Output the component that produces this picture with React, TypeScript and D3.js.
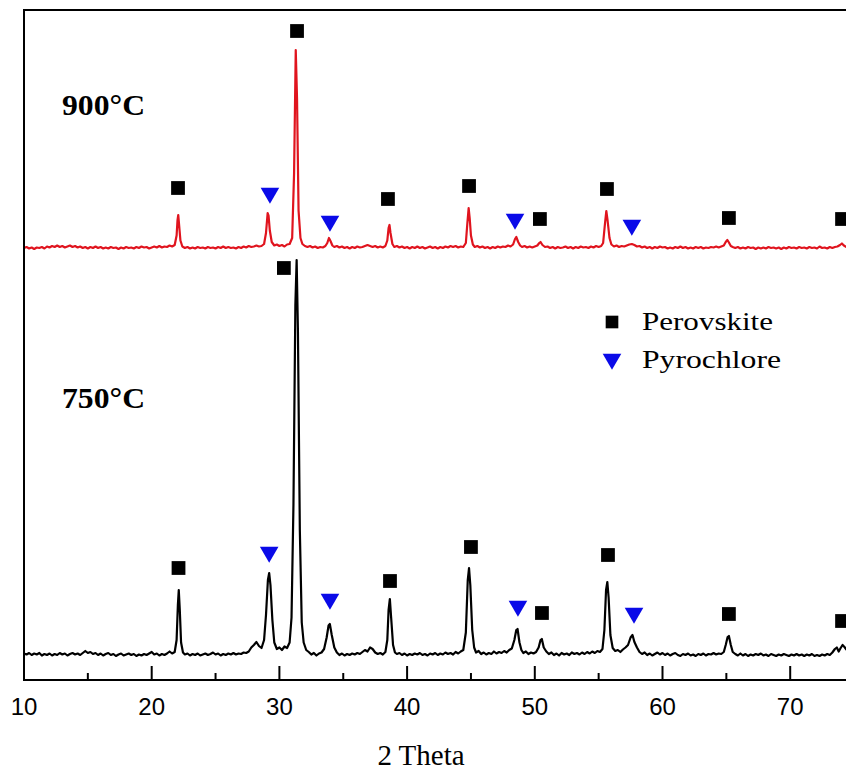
import React from "react";
import * as d3 from "d3";

// ---------- data (2θ in degrees, intensity in arbitrary counts) ----------
const X_TICKS_MAJOR = [10, 20, 30, 40, 50, 60, 70];
const X_TICKS_MINOR = [15, 25, 35, 45, 55, 65, 75];
const X_LABEL = "2 Theta";
const SAMPLE_LABELS = ["900°C", "750°C"];
const LEGEND_ITEMS = ["Perovskite", "Pyrochlore"];

// vertical offset of the 900°C pattern
const OFFSET_900 = 1628;

const PATTERN_750: [number, number][] = [
[10.0,6],[10.2,2],[10.4,8],[10.6,0],[10.8,6],[11.0,2],[11.2,8],[11.4,-2],[11.6,4],[11.8,0],[12.0,6],[12.2,-2],[12.4,4],[12.6,0],[12.8,8],[13.0,2],[13.2,6],[13.4,-2],[13.6,4],[13.8,8],[14.0,2],[14.2,6],[14.4,0],[14.6,8],[14.8,16],[15.0,8],[15.2,12],[15.4,4],[15.6,8],[15.8,0],[16.0,6],[16.2,-2],[16.4,4],[16.6,8],[16.8,0],[17.0,4],[17.2,-4],[17.4,2],[17.6,6],[17.8,-2],[18.0,2],[18.2,6],[18.4,0],[18.6,4],[18.8,-4],[19.0,2],[19.2,-2],[19.4,4],[19.6,0],[19.8,6],[20.0,12],[20.2,2],[20.4,6],[20.6,-2],[20.8,4],[21.0,0],[21.2,6],[21.4,14],[21.6,6],[21.8,12],[21.95,60],[22.05,200],[22.12,260],[22.2,180],[22.3,50],[22.45,10],[22.6,2],[22.8,6],[23.0,-2],[23.2,4],[23.4,0],[23.6,6],[23.8,-2],[24.0,2],[24.2,6],[24.4,0],[24.6,4],[24.8,10],[25.0,2],[25.2,6],[25.4,-2],[25.6,4],[25.8,0],[26.0,6],[26.2,2],[26.4,8],[26.6,2],[26.8,6],[27.0,4],[27.2,10],[27.4,8],[27.6,14],[27.8,30],[28.0,40],[28.2,52],[28.4,36],[28.6,28],[28.8,60],[28.95,160],[29.1,300],[29.2,328],[29.3,280],[29.45,140],[29.6,50],[29.8,24],[30.0,30],[30.2,20],[30.4,34],[30.6,28],[30.8,50],[30.95,150],[31.1,600],[31.25,1400],[31.35,1580],[31.45,1300],[31.6,500],[31.75,130],[31.9,50],[32.1,20],[32.3,12],[32.5,2],[32.7,8],[32.9,-2],[33.1,6],[33.3,10],[33.5,24],[33.7,70],[33.85,118],[33.95,124],[34.1,80],[34.3,30],[34.5,10],[34.7,0],[34.9,6],[35.1,-2],[35.3,4],[35.5,0],[35.7,6],[35.9,2],[36.1,8],[36.3,4],[36.5,12],[36.7,20],[36.9,14],[37.1,30],[37.3,24],[37.5,10],[37.7,4],[37.9,8],[38.1,2],[38.3,12],[38.45,60],[38.55,180],[38.65,224],[38.75,150],[38.9,40],[39.05,10],[39.2,4],[39.4,8],[39.6,0],[39.8,6],[40.0,-2],[40.2,4],[40.4,0],[40.6,6],[40.8,2],[41.0,8],[41.2,0],[41.4,4],[41.6,-2],[41.8,6],[42.0,2],[42.2,8],[42.4,0],[42.6,6],[42.8,2],[43.0,10],[43.2,4],[43.4,8],[43.6,2],[43.8,12],[44.0,6],[44.2,14],[44.4,20],[44.6,90],[44.75,300],[44.85,348],[44.95,280],[45.1,100],[45.25,30],[45.4,10],[45.6,16],[45.8,4],[46.0,10],[46.2,2],[46.4,8],[46.6,4],[46.8,14],[47.0,6],[47.2,12],[47.4,8],[47.6,16],[47.8,10],[48.0,20],[48.2,26],[48.4,60],[48.55,100],[48.65,104],[48.8,50],[48.95,20],[49.1,8],[49.3,14],[49.5,4],[49.7,10],[49.9,6],[50.1,12],[50.3,30],[50.45,60],[50.55,64],[50.7,30],[50.9,14],[51.1,4],[51.3,10],[51.5,0],[51.7,6],[51.9,-2],[52.1,8],[52.3,2],[52.5,6],[52.7,0],[52.9,10],[53.1,4],[53.3,8],[53.5,2],[53.7,10],[53.9,4],[54.1,12],[54.3,6],[54.5,14],[54.7,8],[54.9,16],[55.1,12],[55.3,24],[55.45,100],[55.58,260],[55.68,292],[55.78,230],[55.92,80],[56.1,28],[56.3,16],[56.5,20],[56.7,12],[56.9,22],[57.1,30],[57.3,40],[57.5,70],[57.65,80],[57.8,52],[58.0,30],[58.2,12],[58.4,4],[58.6,10],[58.8,0],[59.0,6],[59.2,-2],[59.4,4],[59.6,10],[59.8,2],[60.0,8],[60.2,0],[60.4,6],[60.6,-2],[60.8,4],[61.0,8],[61.2,0],[61.4,-4],[61.6,4],[61.8,0],[62.0,6],[62.2,-2],[62.4,2],[62.6,-4],[62.8,4],[63.0,0],[63.2,6],[63.4,-2],[63.6,4],[63.8,2],[64.0,8],[64.2,2],[64.4,6],[64.6,4],[64.8,12],[64.95,40],[65.1,72],[65.2,76],[65.35,40],[65.5,12],[65.7,4],[65.9,-2],[66.1,6],[66.3,-2],[66.5,4],[66.7,-4],[66.9,2],[67.1,-2],[67.3,4],[67.5,0],[67.7,6],[67.9,-2],[68.1,2],[68.3,-4],[68.5,4],[68.7,0],[68.9,-4],[69.1,2],[69.3,-2],[69.5,4],[69.7,0],[69.9,-4],[70.1,2],[70.3,-2],[70.5,4],[70.7,-2],[70.9,2],[71.1,-4],[71.3,2],[71.5,-2],[71.7,4],[71.9,-4],[72.1,0],[72.3,-4],[72.5,2],[72.7,-2],[72.9,4],[73.1,0],[73.3,10],[73.5,24],[73.65,30],[73.8,14],[73.95,28],[74.1,40],[74.25,32],[74.4,22],[74.6,12],[75.0,6]
];

const PATTERN_900: [number, number][] = [
[10.0,0],[10.2,4],[10.4,-2],[10.6,2],[10.8,-4],[11.0,2],[11.2,0],[11.4,4],[11.6,-2],[11.8,6],[12.0,2],[12.2,8],[12.4,4],[12.6,10],[12.8,4],[13.0,8],[13.2,2],[13.4,6],[13.6,10],[13.8,4],[14.0,8],[14.2,2],[14.4,6],[14.6,0],[14.8,4],[15.0,-2],[15.2,4],[15.4,0],[15.6,6],[15.8,0],[16.0,4],[16.2,-2],[16.4,2],[16.6,-2],[16.8,4],[17.0,0],[17.2,2],[17.4,-4],[17.6,2],[17.8,-2],[18.0,4],[18.2,0],[18.4,2],[18.6,-2],[18.8,4],[19.0,0],[19.2,6],[19.4,2],[19.6,4],[19.8,-2],[20.0,2],[20.2,6],[20.4,2],[20.6,8],[20.8,2],[21.0,6],[21.2,4],[21.4,10],[21.6,6],[21.8,12],[21.95,50],[22.02,110],[22.08,132],[22.15,90],[22.25,30],[22.4,6],[22.6,0],[22.8,4],[23.0,-2],[23.2,2],[23.4,-2],[23.6,4],[23.8,0],[24.0,2],[24.2,-2],[24.4,4],[24.6,0],[24.8,2],[25.0,-2],[25.2,4],[25.4,0],[25.6,6],[25.8,0],[26.0,4],[26.2,0],[26.4,2],[26.6,-2],[26.8,4],[27.0,0],[27.2,6],[27.4,2],[27.6,8],[27.8,4],[28.0,6],[28.2,10],[28.4,6],[28.6,8],[28.8,16],[28.95,60],[29.08,140],[29.15,130],[29.25,70],[29.4,24],[29.6,10],[29.8,14],[30.0,8],[30.2,12],[30.4,6],[30.6,14],[30.8,16],[31.0,40],[31.15,300],[31.28,792],[31.38,600],[31.5,150],[31.65,40],[31.8,16],[32.0,8],[32.2,4],[32.4,8],[32.6,2],[32.8,6],[33.0,0],[33.2,4],[33.4,2],[33.6,8],[33.75,20],[33.88,40],[34.0,28],[34.15,10],[34.3,4],[34.5,8],[34.7,2],[34.9,6],[35.1,0],[35.3,4],[35.5,-2],[35.7,4],[35.9,0],[36.1,6],[36.3,2],[36.5,4],[36.7,8],[36.9,12],[37.1,8],[37.3,4],[37.5,8],[37.7,2],[37.9,6],[38.1,2],[38.3,8],[38.45,30],[38.55,80],[38.62,92],[38.7,60],[38.85,16],[39.0,4],[39.2,8],[39.4,2],[39.6,6],[39.8,0],[40.0,4],[40.2,-2],[40.4,4],[40.6,0],[40.8,6],[41.0,0],[41.2,4],[41.4,-2],[41.6,2],[41.8,6],[42.0,0],[42.2,4],[42.4,-2],[42.6,4],[42.8,0],[43.0,6],[43.2,2],[43.4,8],[43.6,4],[43.8,8],[44.0,2],[44.2,6],[44.4,4],[44.6,20],[44.72,100],[44.82,160],[44.9,120],[45.0,50],[45.15,14],[45.3,4],[45.5,8],[45.7,2],[45.9,6],[46.1,0],[46.3,4],[46.5,-2],[46.7,4],[46.9,0],[47.1,6],[47.3,2],[47.5,6],[47.7,4],[47.9,10],[48.1,6],[48.3,14],[48.45,36],[48.55,44],[48.7,24],[48.85,10],[49.0,4],[49.2,8],[49.4,2],[49.6,6],[49.8,2],[50.0,6],[50.2,10],[50.35,20],[50.45,24],[50.6,12],[50.8,4],[51.0,6],[51.2,0],[51.4,4],[51.6,-2],[51.8,4],[52.0,0],[52.2,2],[52.4,6],[52.6,0],[52.8,4],[53.0,-2],[53.2,4],[53.4,0],[53.6,6],[53.8,2],[54.0,4],[54.2,0],[54.4,6],[54.6,2],[54.8,8],[55.0,4],[55.2,8],[55.35,20],[55.5,100],[55.6,148],[55.7,110],[55.85,40],[56.0,14],[56.2,6],[56.4,10],[56.6,4],[56.8,8],[57.0,6],[57.2,10],[57.4,14],[57.6,16],[57.8,12],[58.0,6],[58.2,8],[58.4,2],[58.6,6],[58.8,0],[59.0,4],[59.2,-2],[59.4,4],[59.6,0],[59.8,6],[60.0,2],[60.2,4],[60.4,-2],[60.6,2],[60.8,-2],[61.0,4],[61.2,0],[61.4,6],[61.6,0],[61.8,4],[62.0,-2],[62.2,2],[62.4,-2],[62.6,4],[62.8,0],[63.0,4],[63.2,-2],[63.4,2],[63.6,0],[63.8,4],[64.0,2],[64.2,6],[64.4,2],[64.6,6],[64.8,10],[64.95,24],[65.08,32],[65.2,22],[65.35,8],[65.5,4],[65.7,0],[65.9,4],[66.1,-2],[66.3,2],[66.5,-2],[66.7,4],[66.9,0],[67.1,2],[67.3,-4],[67.5,2],[67.7,-2],[67.9,2],[68.1,-2],[68.3,4],[68.5,0],[68.7,2],[68.9,-2],[69.1,2],[69.3,-4],[69.5,2],[69.7,-2],[69.9,4],[70.1,0],[70.3,2],[70.5,-2],[70.7,4],[70.9,0],[71.1,2],[71.3,-2],[71.5,4],[71.7,0],[71.9,2],[72.1,-2],[72.3,6],[72.5,0],[72.7,2],[72.9,-2],[73.1,4],[73.3,0],[73.5,4],[73.7,6],[73.9,12],[74.05,18],[74.2,10],[74.4,4],[74.7,2],[75.0,0]
];

// phase markers: [2θ, intensity position of the marker]
const PEROVSKITE_750: [number, number][] = [
  [22.1, 348], [30.35, 1548], [38.66, 296], [45.0, 432], [50.56, 168], [55.73, 400], [65.2, 164], [74.06, 136],
];
const PYROCHLORE_750: [number, number][] = [
  [29.2, 412], [33.96, 224], [48.68, 196], [57.77, 168],
];
const PEROVSKITE_900: [number, number][] = [
  [22.06, 1868], [31.38, 2496], [38.5, 1824], [44.85, 1876], [50.4, 1744], [55.65, 1864], [65.2, 1748], [74.06, 1744],
];
const PYROCHLORE_900: [number, number][] = [
  [29.26, 1848], [33.96, 1736], [48.45, 1744], [57.6, 1720],
];

const X_DOMAIN = [10, 80];
const Y_DOMAIN = [-100, 2580];

// ---------- layout ----------
const W = 846;
const H = 772;
const LEFT = 24;
const TOP = 10;
const BOTTOM = 680;
const PX_PER_DEG = 12.77;

const RED = "#e0141e";
const BLUE = "#0a0ae8";

export default function App() {
  const x = d3
    .scaleLinear()
    .domain(X_DOMAIN)
    .range([LEFT, LEFT + (X_DOMAIN[1] - X_DOMAIN[0]) * PX_PER_DEG]);
  const y = d3.scaleLinear().domain(Y_DOMAIN).range([BOTTOM, TOP]);

  const line750 = d3
    .line<[number, number]>()
    .x((d) => x(d[0]))
    .y((d) => y(d[1]));
  const line900 = d3
    .line<[number, number]>()
    .x((d) => x(d[0]))
    .y((d) => y(d[1] + OFFSET_900));

  const square = d3.symbol().type(d3.symbolSquare).size(190)()!;
  const tri = d3.symbol().type(d3.symbolTriangle).size(150)()!;
  const squareLeg = d3.symbol().type(d3.symbolSquare).size(160)()!;
  const triLeg = d3.symbol().type(d3.symbolTriangle).size(150)()!;

  const xRight = x(X_DOMAIN[1]);

  return (
    <svg
      width={W}
      height={H}
      style={{ position: "absolute", left: 0, top: 0, background: "#fff" }}
    >
      <defs>
        <clipPath id="plot">
          <rect x={LEFT} y={TOP} width={xRight - LEFT} height={BOTTOM - TOP} />
        </clipPath>
      </defs>
      <rect x={0} y={0} width={W} height={H} fill="#fff" />

      <g clipPath="url(#plot)">
        <path d={line900(PATTERN_900)!} fill="none" stroke={RED} strokeWidth={2.2} strokeLinejoin="round" />
        <path d={line750(PATTERN_750)!} fill="none" stroke="#000" strokeWidth={2.2} strokeLinejoin="round" />

        {[...PEROVSKITE_750, ...PEROVSKITE_900].map((d, i) => (
          <path key={"s" + i} d={square} transform={`translate(${x(d[0])},${y(d[1])})`} fill="#000" />
        ))}
        {[...PYROCHLORE_750, ...PYROCHLORE_900].map((d, i) => (
          <path key={"t" + i} d={tri} transform={`translate(${x(d[0])},${y(d[1])}) rotate(180)`} fill={BLUE} />
        ))}
      </g>

      {/* frame */}
      <g stroke="#000" strokeWidth={2} fill="none">
        <line x1={LEFT} x2={xRight} y1={TOP} y2={TOP} />
        <line x1={LEFT} x2={LEFT} y1={TOP - 1} y2={BOTTOM + 1} />
        <line x1={LEFT} x2={xRight} y1={BOTTOM} y2={BOTTOM} />
        <line x1={xRight} x2={xRight} y1={TOP} y2={BOTTOM} />
        {X_TICKS_MAJOR.map((t) => (
          <line key={"M" + t} x1={x(t)} x2={x(t)} y1={BOTTOM} y2={BOTTOM - 14} />
        ))}
        {X_TICKS_MINOR.map((t) => (
          <line key={"m" + t} x1={x(t)} x2={x(t)} y1={BOTTOM} y2={BOTTOM - 7} />
        ))}
      </g>

      {/* tick labels */}
      <g fontFamily="'Liberation Sans', Arial, sans-serif" fontSize={24} fill="#000" textAnchor="middle">
        {X_TICKS_MAJOR.map((t) => (
          <text key={"l" + t} x={x(t)} y={715}>
            {t}
          </text>
        ))}
      </g>

      <text
        x={421}
        y={765}
        textAnchor="middle"
        fontFamily="'Liberation Serif', 'Times New Roman', serif"
        fontSize={29}
        fill="#000"
      >
        {X_LABEL}
      </text>

      {/* sample labels */}
      <g fontFamily="'Liberation Serif', 'Times New Roman', serif" fontWeight="bold" fontSize={29} fill="#000">
        <text x={62} y={115} textLength={83} lengthAdjust="spacingAndGlyphs">{SAMPLE_LABELS[0]}</text>
        <text x={62} y={408} textLength={83} lengthAdjust="spacingAndGlyphs">{SAMPLE_LABELS[1]}</text>
      </g>

      {/* legend */}
      <g fontFamily="'Liberation Serif', 'Times New Roman', serif" fontSize={25} fill="#000">
        <path d={squareLeg} transform="translate(612,322)" fill="#000" />
        <text x={642} y={330} textLength={131} lengthAdjust="spacingAndGlyphs">{LEGEND_ITEMS[0]}</text>
        <path d={triLeg} transform="translate(612,359) rotate(180)" fill={BLUE} />
        <text x={642} y={368} textLength={139} lengthAdjust="spacingAndGlyphs">{LEGEND_ITEMS[1]}</text>
      </g>
    </svg>
  );
}
